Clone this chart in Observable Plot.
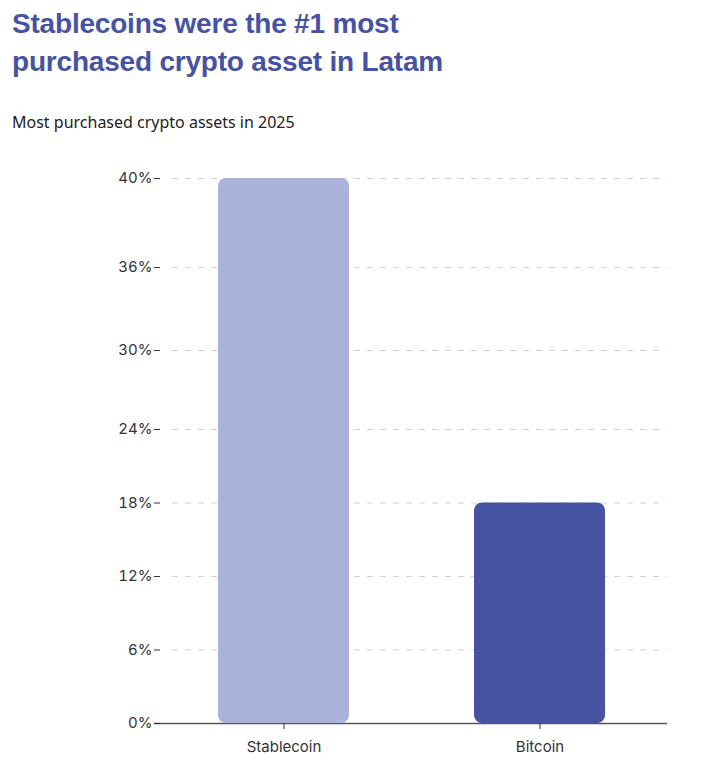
<!DOCTYPE html>
<html><head><meta charset="utf-8">
<script src="https://cdn.jsdelivr.net/npm/d3@7"></script>
<script src="https://cdn.jsdelivr.net/npm/@observablehq/plot@0.6"></script>
<style>
body{margin:0;background:#fff;width:718px;overflow:hidden}
#title{margin:5px 0 0 12px;font-family:"Liberation Sans",Arial,sans-serif;font-weight:700;font-size:28px;line-height:38px;color:#4752a3;letter-spacing:-0.2px}
#subtitle{margin:31px 0 0 12px;font-family:"Noto Sans",sans-serif;font-size:16px;line-height:20px;color:#222}
#chart{margin-top:18px;height:618px}
#chart svg{display:block}
</style></head><body>
<div id="title">Stablecoins were the #1 most<br>purchased crypto asset in Latam</div>
<div id="subtitle">Most purchased crypto assets in 2025</div>
<div id="chart"></div>
<script>
const assets = ["Stablecoin", "Bitcoin"];
const shares = [40, 18];
const barColors = ["#abb2da", "#4752a3"];
const yTicks = [0, 6, 12, 18, 24, 30, 36, 40];

// the original axis is not evenly spaced above 24%: reproduce its spacing
const axisWarp = d3.scaleLinear().domain([0, 24, 30, 36, 40]).range([0, 24, 30.45, 37.22, 44.49]);

const data = assets.map((a, i) => ({asset: a, share: shares[i]}));
const chart = Plot.plot({
  width: 718, height: 618,
  marginLeft: 160, marginRight: 51, marginTop: 28, marginBottom: 45,
  style: {fontFamily: "Inter, sans-serif", fontSize: "14px", color: "#333", background: "#fff"},
  x: {domain: assets, range: [155, 667], paddingInner: 0.49, paddingOuter: 0.245, label: null},
  y: {domain: [0, axisWarp(40)], label: null},
  color: {domain: assets, range: barColors},
  marks: [
    Plot.ruleY(yTicks.slice(1), {y: d => axisWarp(d), stroke: "#d2d2d2", strokeDasharray: "6,7", insetLeft: 12}),
    Plot.ruleY([0], {stroke: "#555", strokeWidth: 1.5, insetLeft: -6}),
    Plot.barY(data, {x: "asset", y: d => axisWarp(d.share), fill: "asset", rx: 8}),
    Plot.axisY({ticks: yTicks.map(d => axisWarp(d)), tickFormat: v => Math.round(axisWarp.invert(v)) + "%", tickSize: 6, tickPadding: 2, stroke: "#333", fontSize: 15, style: {letterSpacing: "-0.6px"}}),
    Plot.axisX({tickSize: 6, tickPadding: 12, fontSize: 15, stroke: "#333", style: {letterSpacing: "-0.3px"}})
  ]
});
document.getElementById("chart").appendChild(chart);
</script>
</body></html>
